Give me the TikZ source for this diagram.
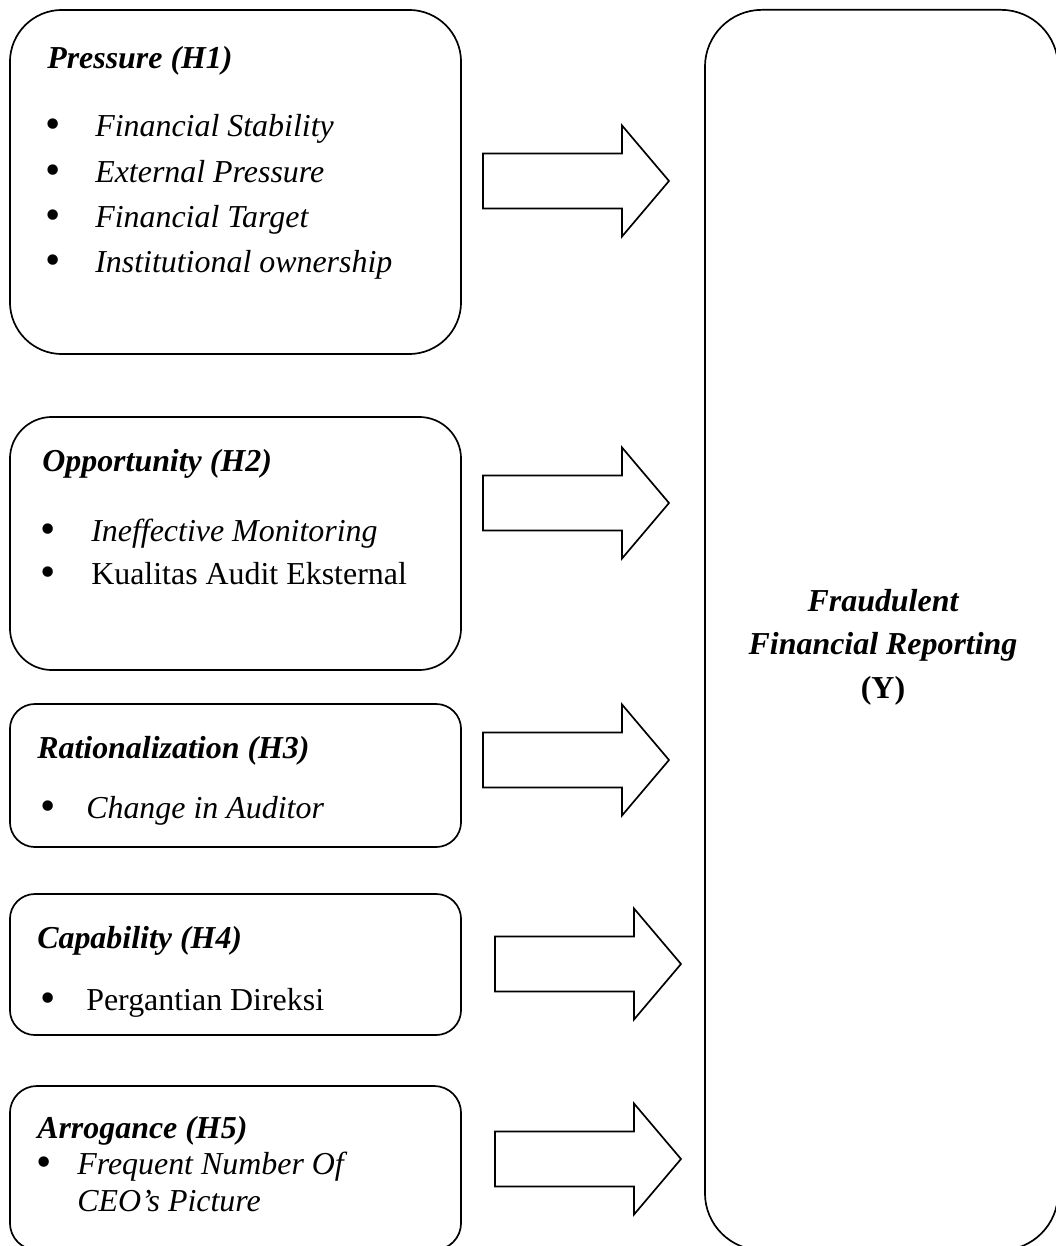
\documentclass[tikz,border=0pt]{standalone}
\usepackage{fontspec}
\setmainfont{Liberation Serif}
\newcommand{\blockarrow}[2]{%
  \draw [arrowline] (#1,#2-27.5) -- ++(139,0) -- ++(0,-28) -- ++(47,55.5)
    -- ++(-47,55.5) -- ++(0,-28) -- ++(-139,0) -- cycle;}
\tikzset{
  boxline/.style={draw, line width=1.2pt, inner sep=0pt},
  factorbox/.style={boxline, minimum width=11.275cm},
  arrowline/.style={line width=1.2pt, line join=miter},
  headtext/.style={anchor=base west, inner sep=0pt,
    font=\fontsize{22.7}{27}\selectfont\bfseries\itshape},
  itemtext/.style={anchor=base west, inner sep=0pt,
    font=\fontsize{22.7}{27}\selectfont\itshape},
  plaintext/.style={anchor=base west, inner sep=0pt,
    font=\fontsize{22.7}{27}\selectfont},
  dot/.style={anchor=base, inner sep=0pt, font=\fontsize{31}{31}\selectfont}
}
\begin{document}
\begin{tikzpicture}[x=0.025cm, y=-0.025cm]
      \useasboundingbox (0,0) rectangle (1055,1246);
      \node [factorbox, minimum height=8.6cm, rounded corners=1.3cm] (pressure) at (235.5,182) {};
      \node [factorbox, minimum height=6.325cm, rounded corners=1.05cm] (opportunity) at (235.5,543.5) {};
      \node [factorbox, minimum height=3.575cm, rounded corners=0.625cm] (rational) at (235.5,775.5) {};
      \node [factorbox, minimum height=3.525cm, rounded corners=0.625cm] (capability) at (235.5,964.5) {};
      \node [factorbox, minimum height=4.1cm, rounded corners=0.675cm] (arrogance) at (235.5,1168) {};
      \node [boxline, minimum width=8.825cm, minimum height=31cm, rounded corners=1.425cm] (fraud) at (881.5,630) {};
      \node [headtext] (pressurehead) at (47,69) {Pressure (H1)};
      \node [dot] (pdot1) at (53,139) {\textbullet};
      \node [dot] (pdot2) at (53,185) {\textbullet};
      \node [dot] (pdot3) at (53,230) {\textbullet};
      \node [dot] (pdot4) at (53,275) {\textbullet};
      \node [itemtext] (pitem1) at (95,137) {Financial Stability};
      \node [itemtext] (pitem2) at (95,183) {External Pressure};
      \node [itemtext] (pitem3) at (95,228) {Financial Target};
      \node [itemtext] (pitem4) at (95,273) {Institutional ownership};
      \node [headtext] (opphead) at (42,471) {Opportunity (H2)};
      \node [dot] (odot1) at (48,543) {\textbullet};
      \node [dot] (odot2) at (48,586) {\textbullet};
      \node [itemtext] (oitem1) at (91,541) {Ineffective Monitoring};
      \node [plaintext] (oitem2) at (91,584) {Kualitas Audit Eksternal};
      \node [headtext] (rathead) at (37,758) {Rationalization (H3)};
      \node [dot] (rdot1) at (48,820) {\textbullet};
      \node [itemtext] (ritem1) at (86,818) {Change in Auditor};
      \node [headtext] (caphead) at (37,948) {Capability (H4)};
      \node [dot] (cdot1) at (48,1012) {\textbullet};
      \node [plaintext] (citem1) at (86,1010) {Pergantian Direksi};
      \node [headtext] (arrhead) at (37,1138) {Arrogance (H5)};
      \node [dot] (adot1) at (44,1176) {\textbullet};
      \node [itemtext] (aitem1) at (77,1174) {Frequent Number Of};
      \node [itemtext] (aitem2) at (77,1211) {CEO’s Picture};
      \node [headtext, anchor=base] (fraudline1) at (883,611) {Fraudulent};
      \node [headtext, anchor=base] (fraudline2) at (883,654) {Financial Reporting};
      \node [plaintext, anchor=base, font=\fontsize{22.7}{27}\selectfont\bfseries] (fraudline3) at (883,698) {(Y)};
      \blockarrow{483}{181}
      \blockarrow{483}{503}
      \blockarrow{483}{760}
      \blockarrow{495}{964}
      \blockarrow{495}{1159}
    \end{tikzpicture}
\end{document}
